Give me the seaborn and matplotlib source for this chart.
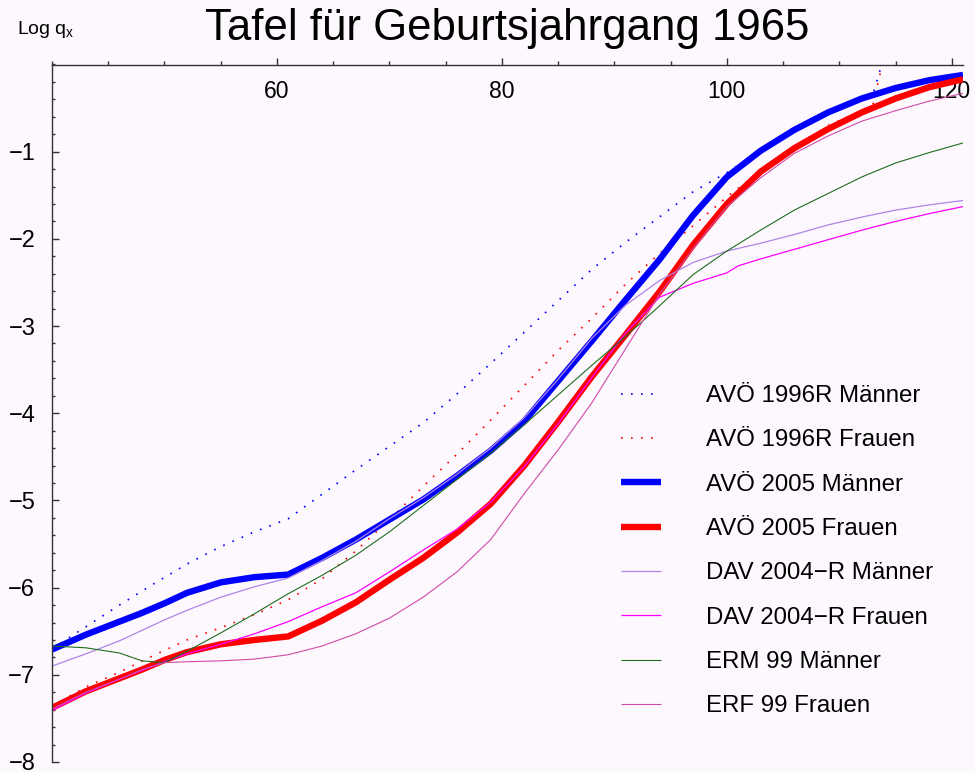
# Sterbetafeln: Log q_x nach Alter, Geburtsjahrgang 1965
import numpy as np
import pandas as pd
import matplotlib
matplotlib.use('Agg')
import matplotlib.pyplot as plt
from matplotlib.lines import Line2D
from matplotlib.ticker import MultipleLocator
import seaborn as sns

# ages (x) for most tables
ages = [40, 43, 46, 48, 50, 52, 55, 58, 61, 64, 67, 70, 73, 76, 79, 82, 85, 88,
        91, 94, 97, 100, 103, 106, 109, 112, 115, 118, 121]
# AVÖ 1996R ends at 114
ages_96 = [40, 43, 46, 49, 52, 55, 58, 61, 64, 67, 70, 73, 76, 79, 82, 85, 88,
           91, 94, 97, 100, 103, 106, 109, 112, 113, 114]
# DAV 2004-R Frauen has a small kink at 101
ages_davf = [40, 43, 46, 48, 50, 52, 55, 58, 61, 64, 67, 70, 73, 76, 79, 82, 85, 88,
             91, 94, 97, 100, 101, 103, 106, 109, 112, 115, 118, 121]

avoe96_m = [-6.70, -6.45, -6.20, -5.96, -5.73, -5.53, -5.36, -5.21, -4.93, -4.65,
            -4.38, -4.11, -3.78, -3.43, -3.07, -2.71, -2.35, -2.04, -1.75, -1.46,
            -1.24, -0.99, -0.75, -0.55, -0.40, -0.34, 0.10]
avoe96_f = [-7.36, -7.14, -6.97, -6.78, -6.60, -6.46, -6.31, -6.14, -5.90, -5.58,
            -5.22, -4.84, -4.47, -4.08, -3.68, -3.28, -2.91, -2.52, -2.17, -1.85,
            -1.52, -1.22, -0.96, -0.70, -0.53, -0.46, 0.10]
avoe05_m = [-6.71, -6.54, -6.39, -6.29, -6.18, -6.06, -5.94, -5.88, -5.85, -5.66,
            -5.45, -5.22, -4.99, -4.72, -4.43, -4.09, -3.63, -3.17, -2.70, -2.24,
            -1.73, -1.29, -0.99, -0.75, -0.55, -0.39, -0.27, -0.18, -0.12]
avoe05_f = [-7.38, -7.19, -7.04, -6.94, -6.83, -6.74, -6.65, -6.60, -6.56, -6.38,
            -6.17, -5.91, -5.66, -5.37, -5.04, -4.60, -4.10, -3.58, -3.10, -2.61,
            -2.07, -1.60, -1.23, -0.96, -0.74, -0.55, -0.39, -0.26, -0.17]
dav_m = [-6.90, -6.76, -6.61, -6.49, -6.37, -6.26, -6.11, -5.99, -5.89, -5.69,
         -5.47, -5.21, -4.97, -4.70, -4.40, -4.05, -3.61, -3.14, -2.76, -2.48,
         -2.27, -2.14, -2.05, -1.95, -1.84, -1.75, -1.67, -1.61, -1.56]
dav_f = [-7.41, -7.21, -7.05, -6.95, -6.85, -6.76, -6.65, -6.53, -6.39, -6.22,
         -6.06, -5.82, -5.57, -5.33, -5.02, -4.61, -4.12, -3.59, -3.08, -2.67,
         -2.51, -2.39, -2.31, -2.23, -2.12, -2.01, -1.90, -1.80, -1.71, -1.63]
erm_m = [-6.67, -6.69, -6.75, -6.84, -6.86, -6.73, -6.52, -6.30, -6.07, -5.86,
         -5.63, -5.36, -5.06, -4.76, -4.46, -4.13, -3.79, -3.45, -3.12, -2.77,
         -2.41, -2.14, -1.90, -1.67, -1.48, -1.29, -1.13, -1.01, -0.90]
erf_f = [-7.39, -7.20, -7.05, -6.94, -6.86, -6.85, -6.84, -6.82, -6.77, -6.67,
         -6.53, -6.35, -6.11, -5.82, -5.45, -4.92, -4.42, -3.88, -3.26, -2.64,
         -2.11, -1.63, -1.30, -1.02, -0.82, -0.65, -0.53, -0.42, -0.33]

labels = ['AVÖ 1996R Männer', 'AVÖ 1996R Frauen', 'AVÖ 2005 Männer', 'AVÖ 2005 Frauen',
          'DAV 2004\u2212R Männer', 'DAV 2004\u2212R Frauen', 'ERM 99 Männer', 'ERF 99 Frauen']
series = [(ages_96, avoe96_m), (ages_96, avoe96_f), (ages, avoe05_m), (ages, avoe05_f),
          (ages, dav_m), (ages_davf, dav_f), (ages, erm_m), (ages, erf_f)]

colors = ['#0000ff', '#ff0000', '#0000ff', '#ff0000',
          '#b084e6', '#ff00ff', '#1e6e1e', '#d04aa8']
widths = [1.2, 1.2, 4.6, 4.6, 0.9, 0.9, 0.8, 0.8]
dots = [(1, 5), (1, 5), '', '', '', '', '', '']

# long-form table for seaborn
frames = []
for lab, (x, y) in zip(labels, series):
    frames.append(pd.DataFrame({'age': x, 'logq': y, 'tafel': lab}))
df = pd.concat(frames, ignore_index=True)

sns.set_style('ticks')
plt.rcParams['font.family'] = ['Liberation Sans', 'DejaVu Sans']
plt.rcParams['text.color'] = 'black'
plt.rcParams['xtick.labelcolor'] = 'black'
plt.rcParams['ytick.labelcolor'] = 'black'
bg = '#fdf8fd'

fig = plt.figure(figsize=(9.75, 7.72), dpi=100, facecolor=bg)
ax = fig.add_axes([52 / 975, 10 / 772, 911 / 975, 697.5 / 772])
ax.set_facecolor(bg)

sns.lineplot(data=df, x='age', y='logq', hue='tafel', size='tafel', style='tafel',
             hue_order=labels, size_order=labels, style_order=labels,
             palette=dict(zip(labels, colors)), sizes=dict(zip(labels, widths)),
             dashes=dict(zip(labels, dots)), estimator=None, sort=True,
             legend=False, ax=ax, solid_joinstyle='round', solid_capstyle='butt')

ax.set_xlim(40, 121)
ax.set_ylim(-8, 0)
ax.set_xlabel('')
ax.set_ylabel('')

# Mathematica style axes: x axis at y = 0 (top), y axis at x = 40
ax.spines['top'].set_visible(False)
ax.spines['right'].set_visible(False)
ax.spines['bottom'].set_position(('data', 0))
for s in ['bottom', 'left']:
    ax.spines[s].set_color('#333333')
    ax.spines[s].set_linewidth(1.0)

ax.set_xticks([60, 80, 100, 120])
ax.xaxis.set_minor_locator(MultipleLocator(5))
ax.set_yticks(range(-8, 0))
ax.yaxis.set_minor_locator(MultipleLocator(0.2))
ax.tick_params(axis='x', which='major', direction='in', length=5, width=1,
               color='#333333', labelsize=16.5, pad=11)
ax.tick_params(axis='x', which='minor', direction='in', length=3, width=1, color='#333333')
ax.tick_params(axis='y', which='major', direction='in', length=5, width=1,
               color='#333333', labelsize=17, pad=12)
ax.tick_params(axis='y', which='minor', direction='in', length=2.5, width=1, color='#333333')

# legend built from the same styles
handles = []
for c, w, d in zip(colors, widths, dots):
    h = Line2D([0], [0], color=c, lw=w, solid_capstyle='butt')
    if d:
        h.set_dashes(d)
    handles.append(h)
ax.legend(handles, labels, loc='upper left', bbox_to_anchor=(621 / 975, 1 - 385 / 772),
          bbox_transform=fig.transFigure, frameon=False, fontsize=17.3,
          handlelength=1.65, handletextpad=1.9, labelspacing=0.93,
          borderpad=0, borderaxespad=0)

fig.text(507 / 975, 1 - 40 / 772, 'Tafel für Geburtsjahrgang 1965',
         ha='center', va='baseline', fontsize=31.5)
fig.text(17 / 975, 1 - 34 / 772, 'Log q$_\\mathregular{x}$',
         ha='left', va='baseline', fontsize=14)

fig.savefig('out.png', dpi=100, facecolor=bg)
